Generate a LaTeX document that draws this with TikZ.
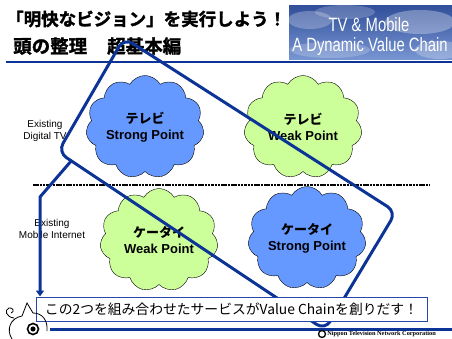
\documentclass[tikz,border=0pt]{standalone}
\usepackage{fontspec}
\setmainfont{Liberation Sans}
\newfontfamily\jpfont{Noto Sans CJK JP}
\newfontfamily\jpheavy{Noto Sans CJK JP Bold}[FakeBold=1.6]
\newfontfamily\corpfont{Liberation Serif}
\usetikzlibrary{shapes.symbols,arrows.meta}

\definecolor{chainblue}{RGB}{12,52,150}
\definecolor{strongblue}{RGB}{102,153,255}
\definecolor{weakgreen}{RGB}{204,255,153}
\definecolor{boxblue}{RGB}{40,70,170}
\definecolor{skytop}{RGB}{50,80,155}
\definecolor{skybottom}{RGB}{120,150,210}

\tikzset{
  puff/.style={cloud, cloud puffs=11, cloud puff arc=120, cloud ignores aspect,
    draw=black, thin, inner sep=0pt, minimum width=118pt, minimum height=103pt,
    align=center, font=\fontsize{13}{16}\selectfont\bfseries},
  strongpuff/.style={puff, fill=strongblue},
  weakpuff/.style={puff, fill=weakgreen},
  sidelabel/.style={align=center, font=\fontsize{10}{12.5}\selectfont},
  chain/.style={draw=chainblue, line width=3pt, rounded corners=10pt},
  headtext/.style={text=white, font=\fontsize{14.8}{16}\selectfont},
  titletext/.style={anchor=west, inner sep=0pt, font=\jpheavy\fontsize{17.5}{20}\selectfont}
}

\begin{document}
\begin{tikzpicture}[
    x=1pt,
    y=-1pt
  ]
    \useasboundingbox (0,0) rectangle (452,339);

    % Cabecera con el cielo
    \begin{scope}
      \clip (289,6) rectangle (452,60);
      \fill[top color=skytop, bottom color=skybottom] (289,6) rectangle (452,60);
      \fill[white, opacity=0.25] (310,20) ellipse (22 and 9);
      \fill[white, opacity=0.2] (345,12) ellipse (30 and 7);
      \fill[white, opacity=0.3] (420,22) ellipse (35 and 12);
      \fill[white, opacity=0.2] (330,50) ellipse (40 and 8);
      \fill[white, opacity=0.25] (440,50) ellipse (25 and 9);
    \end{scope}
    \node[headtext] (headtop) at (369,25) {\scalebox{1}[1.3]{TV \& Mobile}};
    \node[headtext] (headbot) at (370,47) {\scalebox{1}[1.3]{A Dynamic Value Chain}};

    % Cadena de valor (debajo del titulo y de las nubes)
    \coordinate (apex) at (124,38);
    \coordinate (west) at (58,152);
    \coordinate (south) at (325,330);
    \coordinate (east) at (396,212);

    % Titulo
    \node[titletext] (title) at (6,19) {「明快なビジョン」を実行しよう！};
    \node[titletext, font=\jpheavy\fontsize{18.5}{20}\selectfont]
      (subtitle) at (13,46) {頭の整理\hspace{20pt}超基本編};
    \draw[chainblue, line width=2.5pt] (6,62) -- (452,62);

    % Separacion TV / movil
    \draw[line width=1.6pt, dash pattern=on 2.5pt off 0.8pt] (33,185) -- (430,185);

    \node[sidelabel] (lbltv) at (45,131) {Existing\\Digital TV};
    \node[sidelabel] (lblmobile) at (52,229) {Existing\\Mobile Internet};

    % Nubes
    \node[strongpuff] (tvstrong) at (145,127) {{\jpfont テレビ}\\Strong Point};
    \node[weakpuff] (tvweak) at (303,127) {{\jpfont テレビ}\\Weak Point};
    \node[weakpuff] (mobweak) at (159,240) {{\jpfont ケータイ}\\Weak Point};
    \node[strongpuff] (mobstrong) at (307,238) {{\jpfont ケータイ}\\Strong Point};

    \draw[chain] (apex) -- (west) -- (south) -- (east) -- cycle;

    \node[draw=boxblue, fill=white, line width=1pt, minimum width=391pt,
      minimum height=24pt, inner sep=0pt, font=\jpfont\fontsize{13.8}{15}\selectfont]
      (msg) at (231.5,309) {この2つを組み合わせたサービスがValue Chainを創りだす！};

    \coordinate (fork) at (72,160);
    \coordinate (elbow) at (40,197);
    \draw[chain, rounded corners=0pt, -{Triangle[width=8pt,length=6pt]}]
      (fork) -- (elbow) -- (elbow |- msg.north);

    % Pie
    \draw[chainblue, line width=3pt] (50,329) -- (452,329);
    \node[circle, draw, line width=1.3pt, minimum size=7pt, inner sep=0pt]
      (logo) at (322,334) {};
    \node[anchor=west, inner sep=1pt, font=\corpfont\bfseries\fontsize{6.3}{7}\selectfont]
      (corp) at (logo.east) {Nippon Television Network Corporation};

    % Mascota
    \draw[line width=0.8pt] (12,339) .. controls (6,330) and (10,318) .. (22,316)
      -- (27,303) -- (33,313) .. controls (42,313) and (48,320) .. (47,331);
    \draw[line width=0.8pt] (14,318) .. controls (6,317) and (4,310) .. (9,308)
      .. controls (13,307) and (15,312) .. (11,313);
    \draw[line width=1.6pt] (33,329) circle (5.5);
    \fill (33,329) circle (2.6);
  \end{tikzpicture}
\end{document}
